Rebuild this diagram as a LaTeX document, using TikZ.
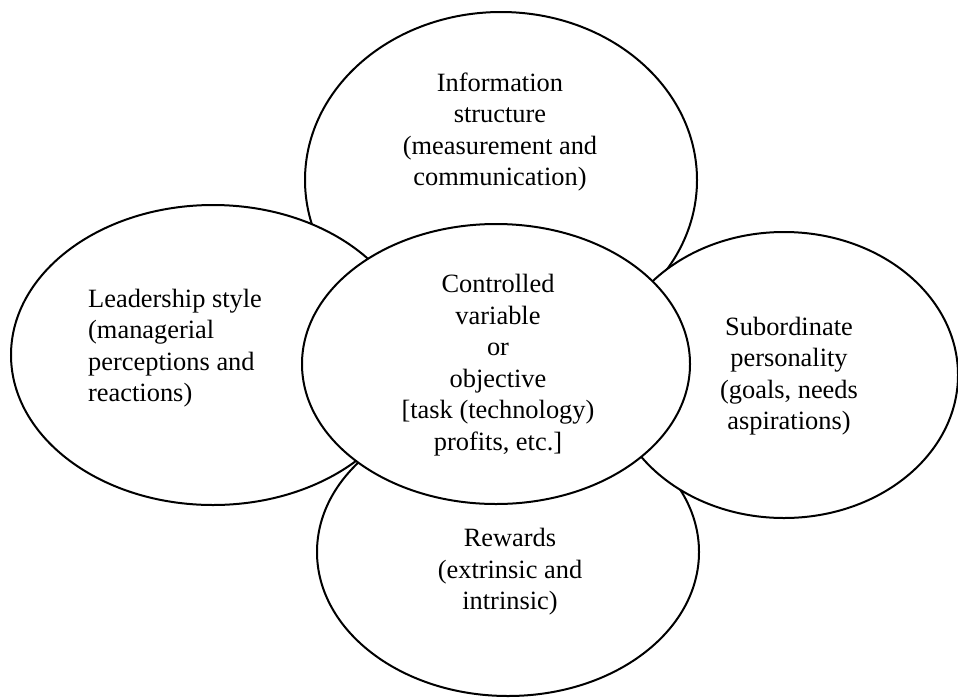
\documentclass[tikz,border=0pt]{standalone}
\usepackage{fontspec}
\setmainfont{Liberation Serif}
\begin{document}
\begin{tikzpicture}[x=1pt,y=-1pt,
  oval/.style={draw=black,fill=white,line width=2pt},
  lbl/.style={font=\fontsize{26.4}{31.5}\selectfont,inner sep=0pt},
  lblc/.style={lbl,align=center},
  lbll/.style={lbl,align=left}]
\useasboundingbox (0,0) rectangle (958,697);
% ellipses, back to front
\path[oval] (501,180) ellipse [x radius=196, y radius=168];
\path[oval] (508,552) ellipse [x radius=191, y radius=144];
\path[oval] (213,355) ellipse [x radius=202, y radius=150];
\path[oval] (784,375) ellipse [x radius=174, y radius=143];
\path[oval] (496,364) ellipse [x radius=194, y radius=140];
% texts
\node[lblc] (info) at (500,132) {Information\\structure\\(measurement and\\communication)};
\node[lbll,anchor=west] (lead) at (88,348) {Leadership style\\(managerial\\perceptions and\\reactions)};
\node[lblc] (sub) at (789,376) {Subordinate\\personality\\(goals, needs\\aspirations)};
\node[lblc] (rew) at (510,572) {Rewards\\(extrinsic and\\intrinsic)};
\node[lblc] (ctrl) at (498,365) {Controlled\\variable\\or\\objective\\{[}task (technology)\\profits, etc.{]}};
\end{tikzpicture}
\end{document}
